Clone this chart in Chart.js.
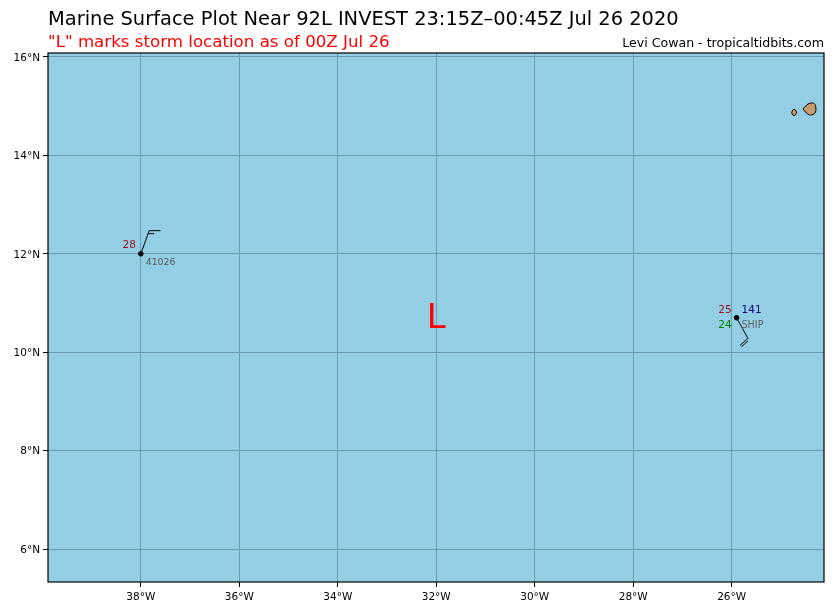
<!DOCTYPE html>
<html>
<head>
<meta charset="utf-8">
<title>Marine Surface Plot</title>
<script src="https://cdn.jsdelivr.net/npm/chart.js@4"></script>
<style>
  html, body { margin: 0; padding: 0; background: #fff; }
  canvas { display: block; }
</style>
</head>
<body>
<canvas id="chart" width="837" height="612"></canvas>
<script>
// Stations: position of the dot
const stationLon = [-38.0, -25.9];
const stationLat = [12.0, 10.7];

// Wind barbs, [lon, lat]
const barbBuoyShaft = [[-38.0, 12.0], [-37.83, 12.47], [-37.6, 12.47]];
const barbBuoyTick = [[-37.85, 12.41], [-37.73, 12.41]];
const barbShipShaft = [[-25.9, 10.7], [-25.67, 10.28], [-25.83, 10.14]];
const barbShipTick = [[-25.67, 10.23], [-25.8, 10.11]];

// Islands, closed outlines
const islandBig = [[-24.55, 14.94], [-24.49, 15.01], [-24.41, 15.06], [-24.32, 15.05],
  [-24.29, 14.96], [-24.31, 14.86], [-24.40, 14.82], [-24.48, 14.86], [-24.55, 14.94]];
const islandSmall = [[-24.78, 14.87], [-24.76, 14.92], [-24.72, 14.93], [-24.69, 14.90],
  [-24.69, 14.85], [-24.72, 14.81], [-24.76, 14.82], [-24.78, 14.87]];

// Text next to the stations: [lon, lat, text, colour, align, size]
const stationLabels = [
  [-38.1, 12.18, "28", "#a01020", "right", 10.5],
  [-37.9, 11.83, "41026", "#555555", "left", 9.3],
  [-26.0, 10.85, "25", "#a01020", "right", 10.5],
  [-25.8, 10.85, "141", "#000080", "left", 10.5],
  [-26.0, 10.54, "24", "#008000", "right", 10.5],
  [-25.8, 10.54, "SHIP", "#606060", "left", 9.6],
];
const stormLon = [-32.0];
const stormLat = [10.68];

const OCEAN = "#94cee4";
const LAND = "#c49a6c";
const GRID = "#6a9cb2";
const FONT = "'DejaVu Sans'";

const toXY = (pairs) => pairs.map((p) => ({ x: p[0], y: p[1] }));

function line(data) {
  return { data: toXY(data), showLine: true, borderColor: "#000", borderWidth: 1, pointRadius: 0, fill: false, order: 2 };
}
function island(data) {
  return { data: toXY(data), showLine: true, tension: 0.4, borderColor: "#000", borderWidth: 1, backgroundColor: LAND, pointRadius: 0, fill: "shape", order: 3 };
}

const annotate = {
  id: "annotate",
  beforeDraw(chart) {
    const a = chart.chartArea, c = chart.ctx;
    c.save();
    c.fillStyle = OCEAN;
    c.fillRect(a.left, a.top, a.right - a.left, a.bottom - a.top);
    c.restore();
  },
  afterDraw(chart) {
    const a = chart.chartArea, c = chart.ctx;
    const x = chart.scales.x, y = chart.scales.y;
    c.save();
    c.strokeStyle = "#000";
    c.lineWidth = 1.2;
    c.strokeRect(a.left, a.top, a.right - a.left, a.bottom - a.top);

    c.textBaseline = "middle";
    stationLabels.forEach((l) => {
      c.font = l[5] + "px " + FONT;
      c.fillStyle = l[3];
      c.textAlign = l[4];
      c.fillText(l[2], x.getPixelForValue(l[0]), y.getPixelForValue(l[1]));
    });

    c.fillStyle = "#ff0000";
    c.textAlign = "center";
    c.font = "34px " + FONT;
    c.fillText("L", x.getPixelForValue(stormLon[0]), y.getPixelForValue(stormLat[0]));

    c.textBaseline = "alphabetic";
    c.textAlign = "left";
    c.fillStyle = "#000";
    c.font = "19.44px " + FONT;
    c.fillText("Marine Surface Plot Near 92L INVEST 23:15Z\u201300:45Z Jul 26 2020", 48, 25);
    c.fillStyle = "#ff0000";
    c.font = "16.67px " + FONT;
    c.fillText("\"L\" marks storm location as of 00Z Jul 26", 48, 47);
    c.fillStyle = "#000";
    c.textAlign = "right";
    c.font = "12.58px " + FONT;
    c.fillText("Levi Cowan - tropicaltidbits.com", 824, 47);
    c.restore();
  },
};

new Chart(document.getElementById("chart"), {
  type: "scatter",
  data: {
    datasets: [
      {
        data: stationLon.map((lon, i) => ({ x: lon, y: stationLat[i] })),
        backgroundColor: "#000",
        borderColor: "#000",
        pointRadius: 2.3,
        order: 1,
      },
      line(barbBuoyShaft),
      line(barbBuoyTick),
      line(barbShipShaft),
      line(barbShipTick),
      island(islandBig),
      island(islandSmall),
    ],
  },
  options: {
    responsive: false,
    animation: false,
    devicePixelRatio: 1,
    layout: { padding: { top: 53, right: 13, left: 0, bottom: 0 } },
    plugins: { legend: { display: false }, tooltip: { enabled: false }, title: { display: false } },
    scales: {
      x: {
        type: "linear",
        min: -39.885,
        max: -24.125,
        afterFit: (s) => { s.height = 30; },
        grid: { color: GRID, lineWidth: 1, tickColor: "#000", tickLength: 5 },
        border: { display: false },
        ticks: {
          stepSize: 2,
          includeBounds: false,
          color: "#000",
          padding: 4,
          maxRotation: 0,
          autoSkip: false,
          font: { family: FONT, size: 10.5 },
          callback: (v) => Math.abs(v) + "\u00b0W",
        },
      },
      y: {
        type: "linear",
        min: 5.33,
        max: 16.08,
        afterFit: (s) => { s.width = 48; },
        grid: { color: GRID, lineWidth: 1, tickColor: "#000", tickLength: 5 },
        border: { display: false },
        ticks: {
          stepSize: 2,
          includeBounds: false,
          color: "#000",
          padding: 3,
          labelOffset: 1,
          autoSkip: false,
          font: { family: FONT, size: 10.5 },
          callback: (v) => v + "\u00b0N",
        },
      },
    },
  },
  plugins: [annotate],
});
</script>
</body>
</html>
